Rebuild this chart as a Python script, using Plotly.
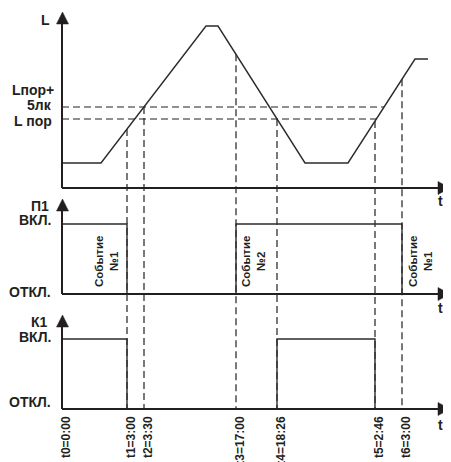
import numpy as np
import plotly.graph_objects as go

# ---------------- data (schematic time positions) ----------------
t_pos = [0, 65, 82, 174, 215, 313, 340]
t_labels = ["t0=0:00", "t1=3:00", "t2=3:30", "t3=17:00", "t4=18:26", "t5=2:46", "t6=3:00"]

L_x = [0, 39, 144, 156, 243, 286, 353, 366]
L_val = [25, 25, 162, 162, 25, 25, 129, 129]
L_por = 69
L_por5 = 81

p1_times = [t_pos[0], t_pos[1], t_pos[3], t_pos[6]]
p1_state = [1, 0, 1, 0]
k1_times = [t_pos[0], t_pos[1], t_pos[4], t_pos[5]]
k1_state = [1, 0, 1, 0]

event_texts = ["Событие<br>№1", "Событие<br>№2", "Событие<br>№1"]
event_at = [t_pos[1], t_pos[3], t_pos[6]]

# ---------------- layout constants ----------------
BASE_L, BASE_P1, BASE_K1 = 221, 115, 0
ON_H = 70
INK = "#231f20"
LINE = "#2b2b2b"
FONT = "Liberation Sans, Arial, sans-serif"
OFF = 8            # page body margin
PLOT_L, PLOT_T, PLOT_R, PLOT_B = 52, 8, 451, 419   # screen pixels of plot area


def X(px):
    return px - 62


def Y(py):
    return 409 - py


def PX(px):
    return (px - PLOT_L) / (PLOT_R - PLOT_L)


def PY(py):
    return (PLOT_B - py) / (PLOT_B - PLOT_T)


fig = go.Figure()

# threshold dashed lines (until crossing of the last rising edge)
rise_v, rise_x = L_val[5:7], L_x[5:7]
for lev in (L_por, L_por5):
    xc = float(np.interp(lev, rise_v, rise_x))
    fig.add_trace(go.Scatter(x=[0, xc], y=[BASE_L + lev] * 2, mode="lines",
                             line=dict(color=INK, width=1.2, dash="7px,4px"),
                             hoverinfo="skip"))

# vertical dashed time markers
for t in t_pos[1:]:
    lv = float(np.interp(t, L_x, L_val))
    fig.add_trace(go.Scatter(x=[t, t], y=[BASE_L + lv, BASE_K1], mode="lines",
                             line=dict(color=INK, width=1.2, dash="7px,4px"),
                             hoverinfo="skip"))

# illumination curve
fig.add_trace(go.Scatter(x=L_x, y=[BASE_L + v for v in L_val], mode="lines",
                         line=dict(color=LINE, width=1.4), hoverinfo="skip"))

# P1 and K1 states
fig.add_trace(go.Scatter(x=p1_times, y=[BASE_P1 + s * ON_H for s in p1_state],
                         mode="lines", line=dict(color=LINE, width=1.4, shape="hv"),
                         hoverinfo="skip"))
fig.add_trace(go.Scatter(x=k1_times, y=[BASE_K1 + s * ON_H for s in k1_state],
                         mode="lines", line=dict(color=LINE, width=1.4, shape="hv"),
                         hoverinfo="skip"))

# ---------------- axes drawn as shapes with arrowheads ----------------
shapes = []
for base, tip_py in ((BASE_L, 12), (BASE_P1, 199), (BASE_K1, 315)):
    tip = Y(tip_py)
    shapes.append(dict(type="line", x0=0, x1=0, y0=base, y1=tip - 10,
                       line=dict(color=INK, width=2)))
    shapes.append(dict(type="path",
                       path=f"M {-5.5},{tip - 12} L 0.5,{tip} L {6.5},{tip - 12} Z",
                       fillcolor=INK, line=dict(color=INK, width=0.5)))
    shapes.append(dict(type="line", x0=0, x1=X(440), y0=base, y1=base,
                       line=dict(color=INK, width=2)))
    shapes.append(dict(type="path",
                       path=f"M {X(438)},{base + 6.5} L {X(450)},{base} L {X(438)},{base - 6.5} Z",
                       fillcolor=INK, line=dict(color=INK, width=0.5)))

# ---------------- text labels ----------------
ann = []


def lab(text, px, py, size=14, anchor="right"):
    ann.append(dict(text=text, x=PX(px), y=PY(py), xref="paper", yref="paper",
                    xanchor=anchor, yanchor="middle", showarrow=False,
                    font=dict(family=FONT, size=size, color=INK, weight="bold")))


lab("L", 52, 20)
lab("Lпор+", 56, 90)
lab("5лк", 54, 105)
lab("L пор", 54, 121)
lab("П1", 51, 206)
lab("ВКЛ.", 53, 220)
lab("ОТКЛ.", 53, 292)
lab("К1", 50, 322)
lab("ВКЛ.", 53, 337)
lab("ОТКЛ.", 53, 402)
for py in (201, 308, 425):
    lab("t", 440, py, anchor="center")

for txt, t, dx in zip(event_texts, event_at, (-21, 17, 18)):
    ann.append(dict(text=txt, x=t + dx, y=Y(262), xref="x", yref="y",
                    xanchor="center", yanchor="middle", showarrow=False,
                    textangle=-90,
                    font=dict(family=FONT, size=11.5, color=INK, weight="bold")))

fig.update_layout(
    width=451 - OFF, height=462 - OFF,
    margin=dict(l=PLOT_L - OFF, r=0, t=PLOT_T - OFF, b=462 - PLOT_B),
    paper_bgcolor="white", plot_bgcolor="white",
    showlegend=False,
    shapes=shapes, annotations=ann,
    xaxis=dict(range=[X(PLOT_L), X(PLOT_R)], showgrid=False, zeroline=False,
               showline=False, ticks="", tickvals=t_pos, ticktext=t_labels,
               tickangle=-90, anchor="free", position=PY(409), automargin=False,
               ticklabelstandoff=4, ticklabelshift=4,
               tickfont=dict(family=FONT, size=12, color=INK, weight="bold"),
               fixedrange=True),
    yaxis=dict(range=[Y(PLOT_B), Y(PLOT_T)], visible=False, fixedrange=True),
)

fig.write_html("out.html")
